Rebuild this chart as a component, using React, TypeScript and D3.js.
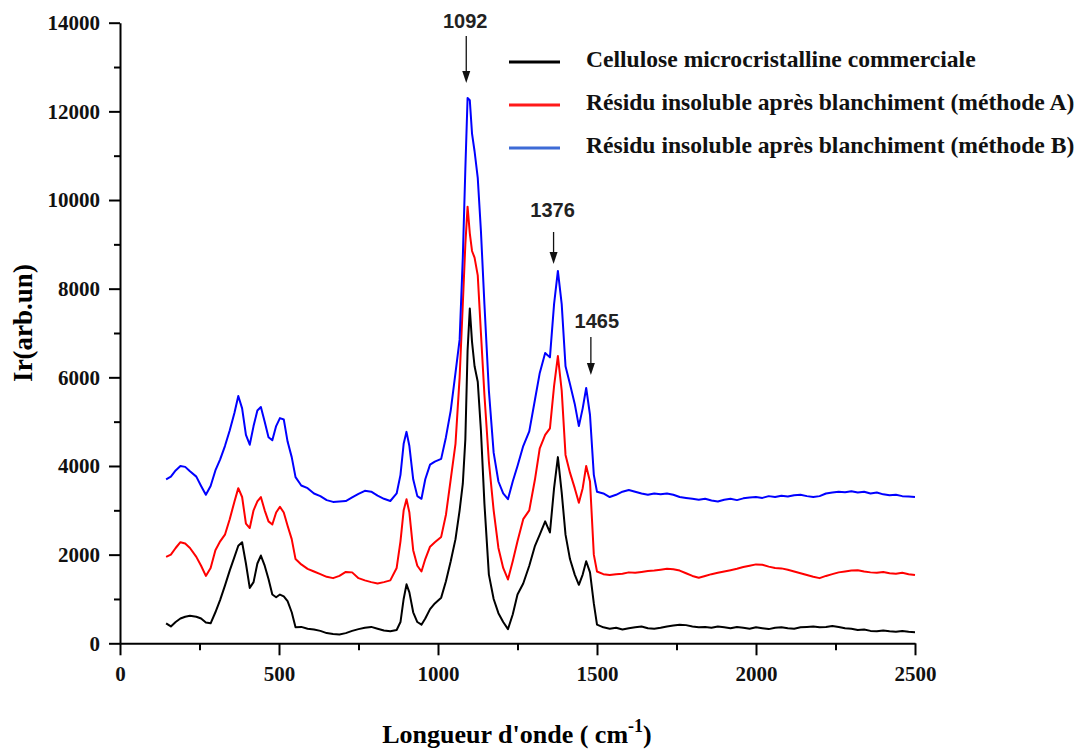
import React, { useEffect, useRef } from 'react'
import * as d3 from 'd3'

// wavenumbers (cm-1), shared by the three spectra
const wavenumbers = [
  145, 160, 175, 190, 205, 220, 240, 255, 270, 285, 300, 315, 330, 345, 360, 372, 384, 396, 408, 420,
  432, 443, 455, 467, 479, 491, 503, 515, 527, 540, 552,
  570, 590, 610, 630, 650, 670, 690, 710, 730, 750, 770, 790, 810, 830, 850, 870, 882,
  892, 901, 910, 922, 935, 948, 960, 975, 990, 1010,
  1025, 1040, 1055, 1068, 1078, 1086, 1093, 1100, 1107, 1115, 1125, 1135, 1146, 1160, 1175, 1190, 1205, 1220, 1235,
  1250, 1268, 1287, 1305, 1320, 1337, 1352, 1365, 1377, 1389, 1401, 1415, 1430, 1443, 1455, 1466, 1478, 1490, 1500,
  1520, 1540, 1560, 1580, 1600, 1620, 1640, 1660, 1680, 1700, 1720, 1740, 1760, 1780, 1800, 1820, 1840, 1860, 1880, 1900,
  1920, 1940, 1960, 1980, 2000, 2020, 2040, 2060, 2080, 2100, 2120, 2140, 2160, 2180, 2200, 2220, 2240, 2260, 2280, 2300,
  2320, 2340, 2360, 2380, 2400, 2420, 2440, 2460, 2480, 2500,
]

const cellulose = [
  450, 380, 480, 560, 600, 620, 600, 560, 470, 450, 700, 980, 1300, 1640, 1950, 2200, 2280, 1800, 1250, 1380,
  1800, 1980, 1750, 1450, 1100, 1040, 1100, 1060, 950, 700, 360,
  370, 330, 310, 280, 230, 210, 200, 230, 280, 320, 350, 370, 330, 290, 270, 300, 480,
  1000, 1330, 1150, 700, 480, 420, 560, 770, 900, 1030,
  1400, 1850, 2350, 3000, 3600, 4600, 6600, 7550, 6800, 6250, 5900, 4800, 3150, 1550, 1000, 680, 480, 320, 650,
  1100, 1350, 1750, 2200, 2450, 2750, 2500, 3500, 4200, 3400, 2450, 1900, 1550, 1320, 1550, 1850, 1600, 900, 420,
  360, 330, 350, 310, 340, 360, 380, 340, 330, 350, 380, 400, 420, 410, 380, 360, 370, 350, 380, 360,
  340, 370, 350, 330, 360, 340, 320, 350, 360, 340, 330, 360, 370, 380, 360, 370, 390, 370, 340, 330,
  300, 310, 280, 270, 290, 270, 260, 280, 260, 250,
]

const methodA = [
  1950, 2000, 2150, 2280, 2250, 2150, 1950, 1750, 1520, 1700, 2100, 2300, 2450, 2800, 3200, 3500, 3300, 2700, 2600, 3000,
  3200, 3300, 3000, 2750, 2680, 2950, 3080, 2950, 2650, 2350, 1900,
  1780, 1680, 1620, 1560, 1500, 1470, 1520, 1610, 1600, 1470, 1420, 1380, 1350, 1380, 1420, 1700, 2300,
  3000, 3250, 2950, 2100, 1750, 1620, 1900, 2180, 2280, 2400,
  2900, 3700, 4500, 6000, 7650, 9000, 9850, 9250, 8850, 8700, 8300, 7000, 5600, 4100, 3000, 2150, 1700, 1440, 1850,
  2300, 2800, 3000, 3700, 4400, 4700, 4850, 5800, 6480, 5700, 4250, 3850, 3500, 3170, 3500, 4000, 3650, 2000, 1620,
  1560, 1540, 1560, 1570, 1600, 1590, 1610, 1630, 1640, 1660, 1680, 1670, 1640, 1580, 1520, 1480, 1520, 1560, 1590, 1620,
  1650, 1680, 1720, 1750, 1780, 1770, 1730, 1700, 1690, 1660, 1620, 1580, 1540, 1500, 1470, 1520, 1560, 1600, 1620, 1640,
  1650, 1620, 1600, 1590, 1610, 1580, 1570, 1590, 1560, 1540,
]

const methodB = [
  3700, 3760, 3900, 4000, 3980, 3880, 3760, 3550, 3350, 3550, 3900, 4150, 4450, 4800, 5200, 5580, 5300, 4700, 4480, 4900,
  5250, 5330, 5000, 4650, 4580, 4900, 5080, 5050, 4550, 4200, 3750,
  3560, 3500, 3380, 3320, 3230, 3190, 3200, 3210, 3290, 3370, 3440, 3420, 3330, 3260, 3210, 3380, 3800,
  4500, 4770, 4450, 3700, 3320, 3260, 3700, 4030, 4100, 4160,
  4650, 5250, 6100, 6850, 8700, 10700, 12300, 12250, 11500, 11100, 10500, 9300, 7650, 5700, 4300, 3650, 3380, 3250, 3650,
  4000, 4450, 4780, 5500, 6100, 6550, 6450, 7650, 8400, 7650, 6250, 5850, 5400, 4900, 5300, 5760, 5150, 3800, 3420,
  3380, 3300, 3350, 3420, 3460, 3420, 3380, 3350, 3380, 3360, 3380, 3350, 3300, 3280, 3260, 3240, 3260, 3220, 3200, 3240,
  3260, 3230, 3270, 3290, 3300, 3280, 3320, 3300, 3330, 3310, 3340, 3350, 3320, 3300, 3320, 3380, 3400, 3420, 3410, 3430,
  3400, 3420, 3380, 3400, 3360, 3340, 3350, 3320, 3310, 3300,
]

const seriesNames = [
  'Cellulose microcristalline commerciale',
  'Résidu insoluble après blanchiment (méthode A)',
  'Résidu insoluble après blanchiment (méthode B)',
]
const seriesColors = ['#000000', '#ff0000', '#0000ff']
const legendColors = ['#000000', '#ff1a1a', '#3d6bd6']

const xTicks = [0, 500, 1000, 1500, 2000, 2500]
const xMinorTicks = [250, 750, 1250, 1750, 2250]
const yTicks = [0, 2000, 4000, 6000, 8000, 10000, 12000, 14000]
const yMinorTicks = [1000, 3000, 5000, 7000, 9000, 11000, 13000]

const peaks = [1092, 1376, 1465]

const serif = '"Liberation Serif", "Times New Roman", serif'
const sans = '"Liberation Sans", Arial, sans-serif'

const App: React.FC = () => {
  const svgRef = useRef<SVGSVGElement | null>(null)

  useEffect(() => {
    if (!svgRef.current) return
    const svg = d3.select(svgRef.current)
    svg.selectAll('*').remove()

    const x = d3.scaleLinear().domain([0, 2500]).range([120, 915])
    const y = d3.scaleLinear().domain([0, 14000]).range([643.3, 22.7])

    // spectra
    const series = [cellulose, methodA, methodB]
    const line = d3
      .line<number>()
      .x((d, i) => x(wavenumbers[i]))
      .y(d => y(d))

    svg
      .append('g')
      .selectAll('path')
      .data(series)
      .join('path')
      .attr('d', d => line(d))
      .attr('fill', 'none')
      .attr('stroke', (d, i) => seriesColors[i])
      .attr('stroke-width', 2)
      .attr('stroke-linejoin', 'round')

    // axes
    const styleAxis = (g: d3.Selection<SVGGElement, unknown, null, undefined>) => {
      g.selectAll('.domain').attr('stroke-width', 2)
      g.selectAll('.tick line').attr('stroke-width', 2)
      g.selectAll('.tick text')
        .style('font-family', serif)
        .style('font-weight', 'bold')
        .style('font-size', '21px')
        .attr('fill', '#111')
    }

    svg
      .append('g')
      .attr('transform', `translate(0,${y(0)})`)
      .call(d3.axisBottom(x).tickValues(xMinorTicks).tickFormat(() => '').tickSize(7))
      .call(g => g.select('.domain').remove())
      .call(g => g.selectAll('.tick line').attr('stroke-width', 2))

    svg
      .append('g')
      .attr('transform', `translate(0,${y(0)})`)
      .call(d3.axisBottom(x).tickValues(xTicks).tickFormat(d3.format('d')).tickSize(12).tickSizeOuter(0).tickPadding(11))
      .call(styleAxis)

    svg
      .append('g')
      .attr('transform', `translate(${x(0)},0)`)
      .call(d3.axisLeft(y).tickValues(yMinorTicks).tickFormat(() => '').tickSize(6))
      .call(g => g.select('.domain').remove())
      .call(g => g.selectAll('.tick line').attr('stroke-width', 2))

    svg
      .append('g')
      .attr('transform', `translate(${x(0)},0)`)
      .call(d3.axisLeft(y).tickValues(yTicks).tickFormat(d3.format('d')).tickSize(11).tickSizeOuter(0).tickPadding(9))
      .call(styleAxis)

    // axis titles
    svg
      .append('text')
      .attr('transform', 'translate(32,323) rotate(-90)')
      .attr('text-anchor', 'middle')
      .style('font-family', serif)
      .style('font-weight', 'bold')
      .style('font-size', '27px')
      .text('Ir(arb.un)')

    const xTitle = svg
      .append('text')
      .attr('x', 517)
      .attr('y', 743)
      .attr('text-anchor', 'middle')
      .style('font-family', serif)
      .style('font-weight', 'bold')
      .style('font-size', '26px')
    xTitle.append('tspan').text("Longueur d'onde ( cm")
    xTitle.append('tspan').attr('dy', -11).style('font-size', '18px').text('-1')
    xTitle.append('tspan').attr('dy', 11).text(')')

    // legend
    const legend = svg
      .append('g')
      .selectAll('g')
      .data(seriesNames)
      .join('g')
      .attr('transform', (d, i) => `translate(509,${62 + i * 43})`)
    legend
      .append('line')
      .attr('x1', 0)
      .attr('x2', 51)
      .attr('stroke', (d, i) => legendColors[i])
      .attr('stroke-width', 3)
    legend
      .append('text')
      .attr('x', 77)
      .attr('y', 5)
      .style('font-family', serif)
      .style('font-weight', 'bold')
      .style('font-size', '23.6px')
      .attr('fill', '#111')
      .text(d => d)

    // peak annotations
    const annot = [
      { tdx: -2, adx: -1, ty: 28, a1: 36, a2: 83 },
      { tdx: -5, adx: -4, ty: 217, a1: 232, a2: 264 },
      { tdx: 11, adx: 5, ty: 328, a1: 337, a2: 375 },
    ]
    peaks.forEach((p, i) => {
      const a = annot[i]
      const px = x(p)
      svg
        .append('text')
        .attr('x', px + a.tdx)
        .attr('y', a.ty)
        .attr('text-anchor', 'middle')
        .style('font-family', sans)
        .style('font-weight', 'bold')
        .style('font-size', '20px')
        .attr('fill', '#222')
        .text(String(p))
      const ax = px + a.adx
      svg
        .append('line')
        .attr('x1', ax)
        .attr('x2', ax)
        .attr('y1', a.a1)
        .attr('y2', a.a2 - 8)
        .attr('stroke', '#111')
        .attr('stroke-width', 1.3)
      svg
        .append('polygon')
        .attr('points', `${ax - 4},${a.a2 - 12} ${ax + 4},${a.a2 - 12} ${ax},${a.a2}`)
        .attr('fill', '#111')
    })
  }, [])

  return (
    <svg
      ref={svgRef}
      width={1081}
      height={752}
      style={{ position: 'absolute', left: 0, top: 0, background: '#fff' }}
    />
  )
}

export default App
